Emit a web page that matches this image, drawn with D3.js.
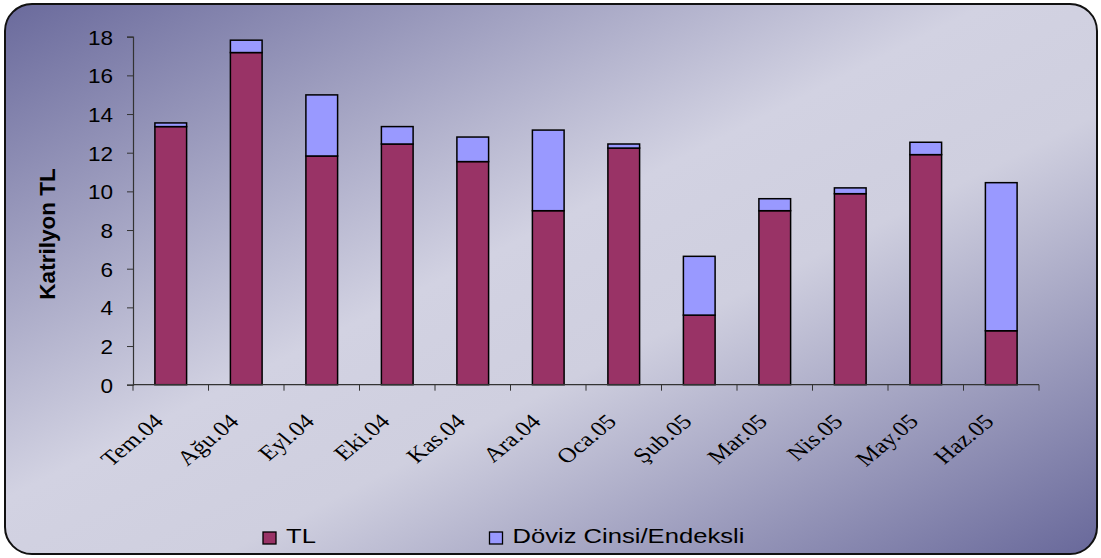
<!DOCTYPE html>
<html>
<head>
<meta charset="utf-8">
<script src="https://cdn.jsdelivr.net/npm/d3@7"></script>
<style>
  body { margin: 0; background: #fff; }
</style>
</head>
<body>
<svg id="chart" width="1101" height="558"></svg>
<script>
// data
const months = ["Tem.04", "Ağu.04", "Eyl.04", "Eki.04", "Kas.04", "Ara.04",
  "Oca.05", "Şub.05", "Mar.05", "Nis.05", "May.05", "Haz.05"];
const tlValues = [13.35, 17.18, 11.83, 12.45, 11.54, 9.0, 12.24, 3.6, 9.0, 9.88, 11.9, 2.79];
const dovizValues = [0.19, 0.64, 3.16, 0.9, 1.27, 4.17, 0.21, 3.04, 0.62, 0.3, 0.64, 7.66];
const yTicks = [0, 2, 4, 6, 8, 10, 12, 14, 16, 18];
const seriesNames = ["TL", "Döviz Cinsi/Endeksli"];
const colors = ["#993366", "#9999ff"];

var svg = d3.select("#chart");

// background gradient
var defs = svg.append("defs");
var grad = defs.append("linearGradient")
  .attr("id", "bg")
  .attr("x1", "0%").attr("y1", "0%")
  .attr("x2", "100%").attr("y2", "100%");
grad.append("stop").attr("offset", "0%").attr("stop-color", "#6a6a9c");
grad.append("stop").attr("offset", "45%").attr("stop-color", "#d2d2e2");
grad.append("stop").attr("offset", "60%").attr("stop-color", "#cfcfdf");
grad.append("stop").attr("offset", "100%").attr("stop-color", "#68689a");

svg.append("rect")
  .attr("x", 5).attr("y", 4)
  .attr("width", 1092).attr("height", 550)
  .attr("rx", 27).attr("ry", 27)
  .attr("fill", "url(#bg)")
  .attr("stroke", "#111")
  .attr("stroke-width", 2);

const plotLeft = 133, plotRight = 1039, plotTop = 36.7, plotBottom = 384.7;

const x = d3.scaleBand().domain(months).range([plotLeft, plotRight]).paddingInner(0.58).paddingOuter(0.29);
const xTick = d3.scaleLinear().domain([0, months.length]).range([plotLeft, plotRight]);
const y = d3.scaleLinear().domain([0, 18]).range([plotBottom, plotTop]);

// stacked bars
const table = months.map((m, i) => ({ month: m, tl: tlValues[i], doviz: dovizValues[i] }));
const stack = d3.stack().keys(["tl", "doviz"])(table);

svg.append("g")
  .selectAll("g")
  .data(stack)
  .join("g")
  .attr("fill", (d, i) => colors[i])
  .selectAll("rect")
  .data((d) => d)
  .join("rect")
  .attr("x", (d) => x(d.data.month))
  .attr("width", x.bandwidth())
  .attr("y", (d) => y(d[1]))
  .attr("height", (d) => y(d[0]) - y(d[1]))
  .attr("stroke", "#000")
  .attr("stroke-width", 1.5);

// y axis
var yAxis = svg.append("g")
  .attr("transform", "translate(" + plotLeft + ",0)")
  .call(d3.axisLeft(y).tickValues(yTicks).tickSize(6).tickPadding(8));
yAxis.select(".domain").attr("stroke", "#333").attr("stroke-width", 1.2);
yAxis.selectAll(".tick line").attr("stroke", "#333");
yAxis.selectAll("text")
  .attr("x", 0)
  .attr("dy", "0.36em")
  .attr("transform", "translate(-20,0) scale(1.1,1)")
  .attr("fill", "#000")
  .style("font-family", "'Liberation Sans', Arial, sans-serif")
  .style("font-size", "20.5px");

// x axis line and ticks between categories
var xg = svg.append("g");
xg.append("line")
  .attr("x1", plotLeft).attr("x2", plotRight)
  .attr("y1", plotBottom).attr("y2", plotBottom)
  .attr("stroke", "#333").attr("stroke-width", 1.2);
xg.selectAll("line.tk")
  .data(d3.range(months.length + 1))
  .join("line")
  .attr("class", "tk")
  .attr("x1", (d) => xTick(d)).attr("x2", (d) => xTick(d))
  .attr("y1", plotBottom).attr("y2", plotBottom + 6)
  .attr("stroke", "#333");

xg.selectAll("text")
  .data(months)
  .join("text")
  .attr("transform", (d) => "translate(" + (x(d) + x.bandwidth() / 2 - 6) + "," + (plotBottom + 38) + ") scale(1.2,1) rotate(-45)")
  .attr("text-anchor", "end")
  .style("font-family", "'Liberation Serif', 'DejaVu Serif', serif")
  .style("font-size", "21px")
  .attr("fill", "#000")
  .text((d) => d);

// y label
svg.append("text")
  .attr("transform", "translate(55," + 234 + ") rotate(-90)")
  .attr("text-anchor", "middle")
  .style("font-family", "'Liberation Sans', Arial, sans-serif")
  .style("font-size", "22.5px")
  .style("font-weight", "bold")
  .text("Katrilyon TL");

// legend
const legendX = [263, 489.5];
var legend = svg.append("g")
  .selectAll("g")
  .data(seriesNames)
  .join("g")
  .attr("transform", (d, i) => "translate(" + legendX[i] + ",532)");
legend.append("rect")
  .attr("width", 13).attr("height", 12)
  .attr("fill", (d, i) => colors[i])
  .attr("stroke", "#000").attr("stroke-width", 1.3);
legend.append("text")
  .attr("transform", "translate(23,11) scale(1.28,1)")
  .style("font-family", "'Liberation Sans', Arial, sans-serif")
  .style("font-size", "20px")
  .text((d) => d);
</script>
</body>
</html>
